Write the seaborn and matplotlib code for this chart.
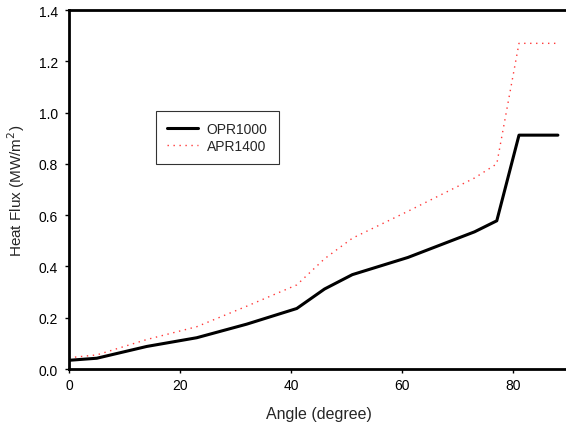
import matplotlib
matplotlib.use("Agg")
import matplotlib.pyplot as plt
import pandas as pd
import seaborn as sns

angle = [0, 5, 14, 23, 32, 41, 46, 51, 61, 67, 73, 77, 81, 88]
opr1000 = [0.034, 0.042, 0.088, 0.122, 0.175, 0.236, 0.312, 0.368, 0.435, 0.485, 0.535, 0.578, 0.912, 0.912]
apr1400 = [0.044, 0.055, 0.115, 0.165, 0.245, 0.328, 0.43, 0.51, 0.615, 0.68, 0.745, 0.80, 1.27, 1.27]

sns.set_style("ticks")
plt.rcParams['font.family'] = ['Liberation Sans', 'DejaVu Sans']

fig = plt.figure(figsize=(5.66, 4.35), dpi=100)
ax = fig.add_axes([0.1219, 0.1494, 0.8834, 0.8253])

df = pd.DataFrame({'angle': angle, 'OPR1000': opr1000, 'APR1400': apr1400})
sns.lineplot(data=df, x='angle', y='OPR1000', ax=ax, color='black', linewidth=2.2, label='OPR1000')
sns.lineplot(data=df, x='angle', y='APR1400', ax=ax, color='#ff3838', linewidth=1.0,
             linestyle=(0, (1, 3.3)), label='APR1400')

ax.set_xlim(0, 90)
ax.set_ylim(0, 1.4)
ax.set_xticks([0, 20, 40, 60, 80])
ax.set_yticks([0.0, 0.2, 0.4, 0.6, 0.8, 1.0, 1.2, 1.4])
ax.set_yticklabels([f"{v:.1f}" for v in ax.get_yticks()])
ax.tick_params(labelsize=10, length=3, width=1, direction='out', colors='black')
ax.tick_params(axis='y', pad=5)
ax.set_xlabel('Angle (degree)', fontsize=11.5, labelpad=10)
ax.set_ylabel('Heat Flux (MW/m$^2$)', fontsize=11, labelpad=8)

for s in ['left', 'bottom', 'top']:
    ax.spines[s].set_linewidth(2)
    ax.spines[s].set_color('black')
ax.spines['right'].set_visible(False)

leg = ax.legend(loc='upper left', bbox_to_anchor=(0.174, 0.719), fontsize=10,
                frameon=True, fancybox=False, borderpad=0.8, handlelength=2.2,
                labelspacing=0.2, handletextpad=0.65, borderaxespad=0)
leg.get_frame().set_edgecolor('black')
leg.get_frame().set_linewidth(0.8)

fig.savefig('out.png', dpi=100)
